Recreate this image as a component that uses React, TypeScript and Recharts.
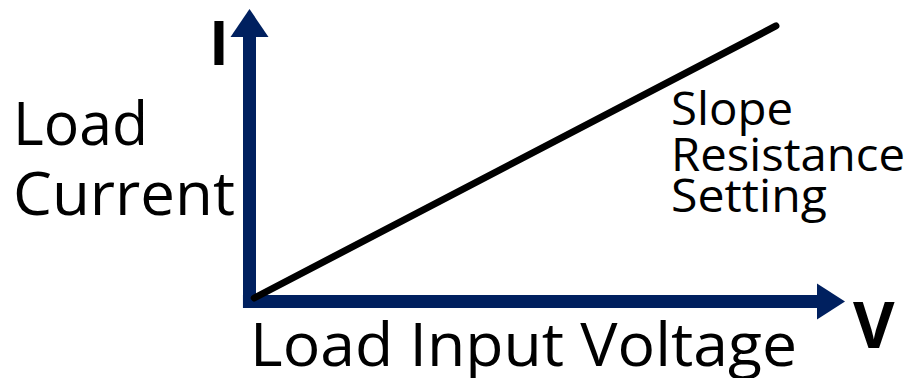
import { LineChart, Line, XAxis, YAxis, ReferenceLine, ReferenceDot } from 'recharts'

// V-I characteristic of an electronic load in constant-resistance mode
const voltage = [0.8, 88.4]
const current = [1.2, 94.2]

const axisColor = '#00205f'
const font = '"Open Sans", "Noto Sans", sans-serif'

const data = voltage.map((v, i) => ({ voltage: v, current: current[i] }))

const upArrow = (p: any) => (
  <polygon points={`${p.cx},${p.cy} ${p.cx - 19},${p.cy + 28} ${p.cx + 19},${p.cy + 28}`} fill={axisColor} />
)
const rightArrow = (p: any) => (
  <polygon points={`${p.cx},${p.cy} ${p.cx - 28},${p.cy - 18} ${p.cx - 28},${p.cy + 18}`} fill={axisColor} />
)

export default function App() {
  return (
    <div style={{ position: 'absolute', left: 0, top: 0, width: 910, height: 378, background: '#fff' }}>
      <LineChart width={910} height={378} data={data} margin={{ top: 9, right: 65, bottom: 76.5, left: 249.5 }}>
        <XAxis dataKey="voltage" type="number" domain={[0, 100]} hide />
        <YAxis type="number" domain={[0, 100]} hide />
        <ReferenceLine
          segment={[{ x: 0, y: -2.2 }, { x: 0, y: 91 }]}
          stroke={axisColor}
          strokeWidth={13}
          ifOverflow="visible"
        />
        <ReferenceLine
          segment={[{ x: -1.1, y: 0 }, { x: 96, y: 0 }]}
          stroke={axisColor}
          strokeWidth={13}
          ifOverflow="visible"
        />
        <ReferenceDot x={0} y={100} r={1} shape={upArrow} ifOverflow="visible" />
        <ReferenceDot x={100} y={0} r={1} shape={rightArrow} ifOverflow="visible" />
        <Line
          dataKey="current"
          type="linear"
          stroke="#000"
          strokeWidth={7}
          strokeLinecap="round"
          dot={false}
          isAnimationActive={false}
        />
      </LineChart>
      <svg width={910} height={378} style={{ position: 'absolute', left: 0, top: 0 }} fontFamily={font} fill="#000">
        <text x={209} y={65} fontSize={60} fontWeight={700}>I</text>
        <text x={853} y={348} fontSize={64} fontWeight={700}>V</text>
        <text x={13} y={145} fontSize={61} textLength={135} lengthAdjust="spacingAndGlyphs">Load</text>
        <text x={13} y={215} fontSize={61} textLength={222} lengthAdjust="spacingAndGlyphs">Current</text>
        <text x={671} y={125} fontSize={45} textLength={122} lengthAdjust="spacingAndGlyphs">Slope</text>
        <text x={671} y={171} fontSize={45} textLength={234} lengthAdjust="spacingAndGlyphs">Resistance</text>
        <text x={671} y={212} fontSize={45} textLength={156} lengthAdjust="spacingAndGlyphs">Setting</text>
        <text x={250} y={366} fontSize={61} textLength={547} lengthAdjust="spacingAndGlyphs">Load Input Voltage</text>
      </svg>
    </div>
  )
}
